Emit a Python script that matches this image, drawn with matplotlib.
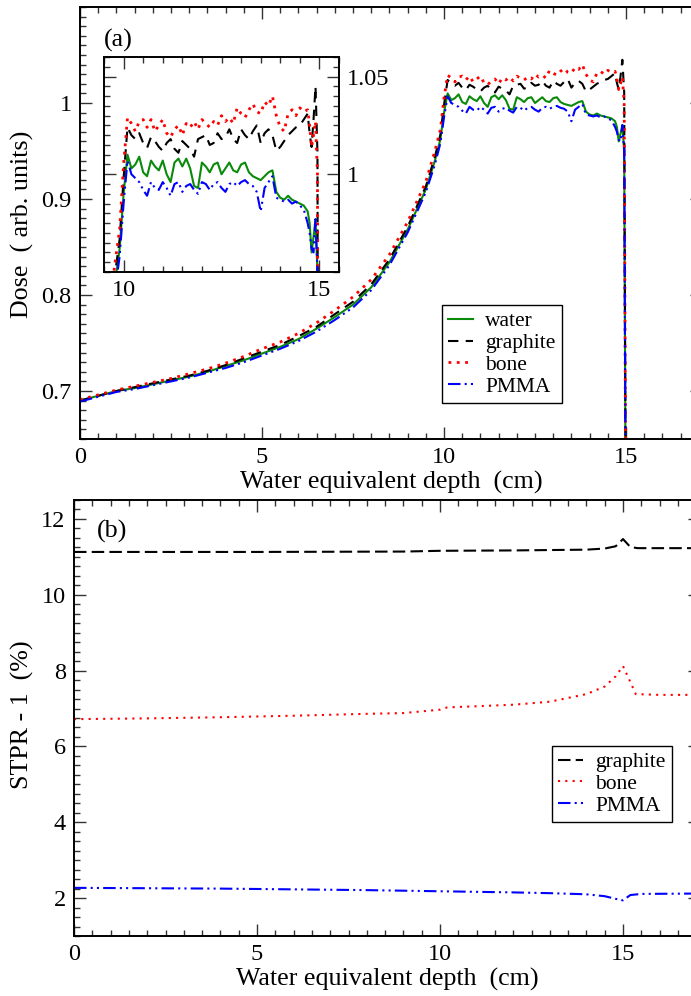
import numpy as np
import matplotlib
matplotlib.use("Agg")
import matplotlib.pyplot as plt
from matplotlib.ticker import MultipleLocator

plt.rcParams['font.family'] = ['Liberation Serif', 'DejaVu Serif']
plt.rcParams['mathtext.fontset'] = 'stix'

# ---------------- data: panel (a) ----------------
depth_a = np.concatenate([np.arange(0, 9.51, 0.5), [9.75, 9.9, 10.0],
                          np.round(np.arange(10.1, 14.71, 0.1), 2),
                          [14.75, 14.8, 14.85, 14.9, 14.95, 15.0, 15.05]])

water = [0.690, 0.695, 0.700, 0.703, 0.707, 0.711, 0.715, 0.720, 0.726, 0.732,
         0.739, 0.746, 0.754, 0.765, 0.777, 0.790, 0.808, 0.834, 0.868, 0.910,
         0.940, 0.962, 0.990,
         1.010, 1.003, 1.005, 1.009, 1.001, 0.999, 1.007, 1.004, 1.002, 1.007,
         1.000, 0.996, 1.006, 1.008, 1.004, 1.008, 1.003, 0.994, 0.993, 1.006,
         1.004, 1.001, 1.005, 1.006, 1.000, 1.003, 1.006, 1.002, 1.001, 1.005,
         1.006, 1.001, 0.999, 0.998, 0.997, 0.999, 1.001, 1.002, 0.991, 0.988,
         0.987, 0.989, 0.987, 0.986, 0.985, 0.984, 0.981,
         0.975, 0.960, 0.968, 0.977, 0.950, 0.500, 0.200]

graphite = [0.690, 0.695, 0.700, 0.704, 0.708, 0.712, 0.716, 0.721, 0.727, 0.734,
            0.741, 0.748, 0.757, 0.767, 0.780, 0.793, 0.811, 0.837, 0.871, 0.913,
            0.944, 0.967, 0.998,
            1.024, 1.020, 1.018, 1.021, 1.016, 1.0135, 1.019, 1.017, 1.014, 1.012,
            1.016, 1.018, 1.013, 1.011, 1.017, 1.015, 1.013, 1.009, 1.018, 1.019,
            1.020, 1.015, 1.016, 1.021, 1.018, 1.019, 1.023, 1.018, 1.016, 1.023,
            1.020, 1.018, 1.022, 1.025, 1.016, 1.021, 1.023, 1.020, 1.012, 1.014,
            1.017, 1.020, 1.022, 1.024, 1.025, 1.028, 1.031,
            1.021, 1.014, 1.028, 1.045, 1.011, 0.500, 0.200]

bone = [0.691, 0.696, 0.701, 0.705, 0.709, 0.713, 0.718, 0.723, 0.729, 0.736,
        0.744, 0.751, 0.760, 0.771, 0.784, 0.798, 0.816, 0.842, 0.876, 0.918,
        0.950, 0.972, 1.005,
        1.029, 1.026, 1.022, 1.027, 1.028, 1.024, 1.028, 1.022, 1.025, 1.028,
        1.021, 1.019, 1.023, 1.025, 1.020, 1.026, 1.024, 1.027, 1.023, 1.028,
        1.026, 1.024, 1.027, 1.025, 1.030, 1.027, 1.029, 1.026, 1.034, 1.031,
        1.029, 1.033, 1.036, 1.032, 1.031, 1.037, 1.035, 1.040, 1.030, 1.024,
        1.022, 1.031, 1.033, 1.030, 1.034, 1.032, 1.033,
        1.025, 1.014, 1.020, 1.027, 1.000, 0.500, 0.200]

pmma = [0.689, 0.694, 0.699, 0.702, 0.706, 0.710, 0.714, 0.719, 0.724, 0.730,
        0.737, 0.744, 0.752, 0.762, 0.774, 0.787, 0.805, 0.831, 0.865, 0.907,
        0.936, 0.958, 0.985,
        1.007, 1.000, 0.998, 0.996, 0.992, 0.989, 0.996, 0.993, 0.992, 0.996,
        0.993, 0.989, 0.995, 0.996, 0.991, 0.994, 0.995, 0.992, 0.990, 0.996,
        0.995, 0.992, 0.995, 0.996, 0.993, 0.991, 0.995, 0.996, 0.994, 0.996,
        0.997, 0.995, 0.994, 0.991, 0.981, 0.993, 0.996, 0.999, 0.988, 0.987,
        0.986, 0.987, 0.985, 0.986, 0.984, 0.982, 0.975,
        0.970, 0.962, 0.960, 0.977, 0.950, 0.500, 0.200]

# ---------------- data: panel (b) ----------------
depth_g = [0, 5, 9, 10, 12, 14, 14.5, 14.8, 15.0, 15.2, 15.4, 17.1]
stpr_graphite = [11.13, 11.13, 11.14, 11.16, 11.17, 11.19, 11.22, 11.28, 11.47, 11.26, 11.23, 11.23]

depth_bn = [0, 2, 4, 6, 8, 9, 10, 10.2, 11, 12, 13, 14, 14.5, 14.8, 15.0, 15.2, 15.35, 16, 17.1]
stpr_bone = [6.72, 6.74, 6.77, 6.81, 6.86, 6.88, 6.97, 7.03, 7.06, 7.10, 7.18, 7.38, 7.58, 7.85, 8.12, 7.70, 7.38, 7.36, 7.36]

depth_p = [0, 2, 4, 6, 8, 10, 12, 13, 14, 14.5, 14.8, 15.0, 15.2, 15.5, 17.1]
stpr_pmma = [2.27, 2.26, 2.25, 2.23, 2.21, 2.18, 2.15, 2.13, 2.10, 2.05, 1.98, 1.94, 2.08, 2.11, 2.12]

GREEN = '#0a8a0a'
TICKFS = 17.5
LABFS = 18.7
LEGFS = 15.5

fig = plt.figure(figsize=(6.91, 9.96), dpi=100)


def style_axes(ax, xminor, ymajor, yminor, labelright=False):
    ax.xaxis.set_major_locator(MultipleLocator(5))
    ax.xaxis.set_minor_locator(MultipleLocator(xminor))
    ax.yaxis.set_major_locator(MultipleLocator(ymajor))
    ax.yaxis.set_minor_locator(MultipleLocator(yminor))
    ax.tick_params(which='both', direction='in', top=True, right=True,
                   labelsize=TICKFS, width=1.0, color='#333333')
    ax.tick_params(which='major', length=8.5, pad=6)
    ax.tick_params(which='minor', length=4.3)
    if labelright:
        ax.tick_params(labelleft=False, labelright=True)
    for s in ax.spines.values():
        s.set_linewidth(1.4)


def draw_dose(ax):
    ax.plot(depth_a, water, color=GREEN, lw=1.5, ls='-', label='water')
    ax.plot(depth_a, graphite, color='black', lw=1.5, dashes=(5, 3.5), label='graphite')
    ax.plot(depth_a, bone, color='red', lw=2.0, dashes=(1, 2), label='bone')
    ax.plot(depth_a, pmma, color='blue', lw=1.5, dashes=(6, 2, 1, 2, 1, 2), label='PMMA')


def make_legend(ax, anchor):
    lg = ax.legend(loc='lower left', bbox_to_anchor=anchor, fontsize=LEGFS,
                   frameon=True, fancybox=False, framealpha=1, edgecolor='black',
                   handlelength=1.15, handletextpad=0.55, labelspacing=0.08,
                   borderpad=0.3, borderaxespad=0)
    lg.get_frame().set_linewidth(1.0)
    return lg


# ----- panel (a) -----
XMAX = 17.1
axa = fig.add_axes([80 / 691, 1 - 439 / 996, XMAX * 36.4 / 691, 432 / 996])
draw_dose(axa)
axa.set_xlim(0, XMAX)
axa.set_ylim(0.65, 1.1)
style_axes(axa, 0.5, 0.1, 0.01)
axa.set_yticks([0.7, 0.8, 0.9, 1.0])
axa.set_yticklabels(['0.7', '0.8', '0.9', '1'])
axa.set_xlabel('Water equivalent depth  (cm)', fontsize=LABFS, labelpad=2)
axa.text(118 / 691, 1 - 40 / 996, '(a)', transform=fig.transFigure, fontsize=LABFS,
         ha='center', va='center')
make_legend(axa, ((442 - 80) / (XMAX * 36.4), 0.083))

# inset
axi = fig.add_axes([104 / 691, 1 - 272 / 996, 235 / 691, 215 / 996])
draw_dose(axi)
axi.set_xlim(9.5, 15.5)
axi.set_ylim(0.95, 1.06)
style_axes(axi, 0.5, 0.05, 0.005, labelright=True)
axi.set_yticks([1.0, 1.05])
axi.set_yticklabels(['1', '1.05'])

# ----- panel (b) -----
axb = fig.add_axes([74 / 691, 1 - 936 / 996, XMAX * 36.6 / 691, 436 / 996])
axb.plot(depth_g, stpr_graphite, color='black', lw=1.5, dashes=(6, 2.5), label='graphite')
axb.plot(depth_bn, stpr_bone, color='red', lw=1.5, dashes=(1, 2.5), label='bone')
axb.plot(depth_p, stpr_pmma, color='blue', lw=1.5, dashes=(6, 2, 1, 2, 1, 2), label='PMMA')
axb.set_xlim(0, XMAX)
axb.set_ylim(1, 12.5)
style_axes(axb, 0.5, 2, 0.25)
axb.set_xlabel('Water equivalent depth  (cm)', fontsize=LABFS, labelpad=2)
axb.text(112 / 691, 1 - 531 / 996, '(b)', transform=fig.transFigure, fontsize=LABFS,
         ha='center', va='center')
make_legend(axb, ((552 - 74) / (XMAX * 36.6), 0.261))

fig.text(22 / 691, 1 - 224 / 996, 'Dose  ( arb. units)', rotation=90, fontsize=LABFS,
         ha='center', va='center')
fig.text(22 / 691, 1 - 715 / 996, 'STPR - 1  (%)', rotation=90, fontsize=LABFS,
         ha='center', va='center')

fig.savefig('out.png', dpi=100)
